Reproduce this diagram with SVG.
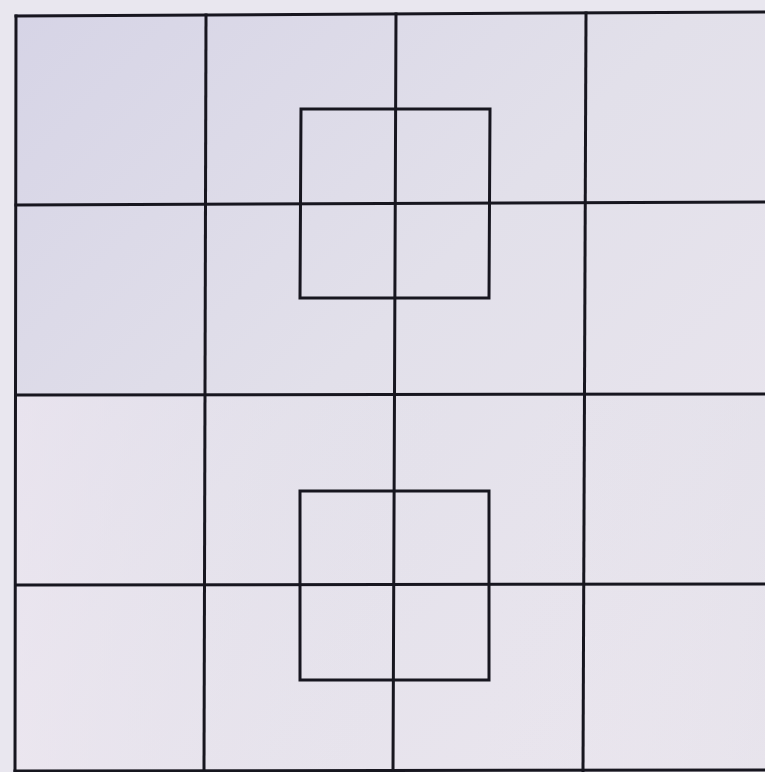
<svg xmlns="http://www.w3.org/2000/svg" width="765" height="772" viewBox="0 0 765 772">
  <defs>
    <linearGradient id="bg" x1="0" y1="0" x2="1" y2="1">
      <stop offset="0" stop-color="#d6d4e6"/>
      <stop offset="0.45" stop-color="#e2e0ea"/>
      <stop offset="1" stop-color="#ece7ef"/>
    </linearGradient>
    <linearGradient id="bg2" x1="0" y1="0" x2="1" y2="0">
      <stop offset="0" stop-color="#f0e9f2" stop-opacity="0.6"/>
      <stop offset="0.6" stop-color="#e6e3ec" stop-opacity="0"/>
      <stop offset="1" stop-color="#dedde6" stop-opacity="0.3"/>
    </linearGradient>
  </defs>
  <style>
    .ln { stroke: #17161f; stroke-width: 3; fill: none; stroke-linecap: square; }
  </style>
  <rect x="0" y="0" width="765" height="772" fill="#e9e7ef"/>
  <rect x="16" y="14" width="749" height="758" fill="url(#bg)"/>
  <rect x="16" y="394" width="749" height="378" fill="url(#bg2)"/>
  <g id="grid">
    <line class="ln" x1="16" y1="16" x2="765" y2="12"/>
    <line class="ln" x1="16" y1="205" x2="765" y2="202"/>
    <line class="ln" x1="16" y1="395" x2="765" y2="394"/>
    <line class="ln" x1="16" y1="585" x2="765" y2="584"/>
    <line class="ln" x1="15" y1="771" x2="765" y2="770"/>
    <line class="ln" x1="16" y1="16" x2="15" y2="771"/>
    <line class="ln" x1="206" y1="15" x2="204" y2="771"/>
    <line class="ln" x1="396" y1="14" x2="393" y2="771"/>
    <line class="ln" x1="586" y1="13" x2="583" y2="771"/>
  </g>
  <g id="square-top">
    <polygon class="ln" points="301,109 490,109 489,298 300,298"/>
  </g>
  <g id="square-bottom">
    <polygon class="ln" points="300,491 489,491 489,680 300,680"/>
  </g>
</svg>
